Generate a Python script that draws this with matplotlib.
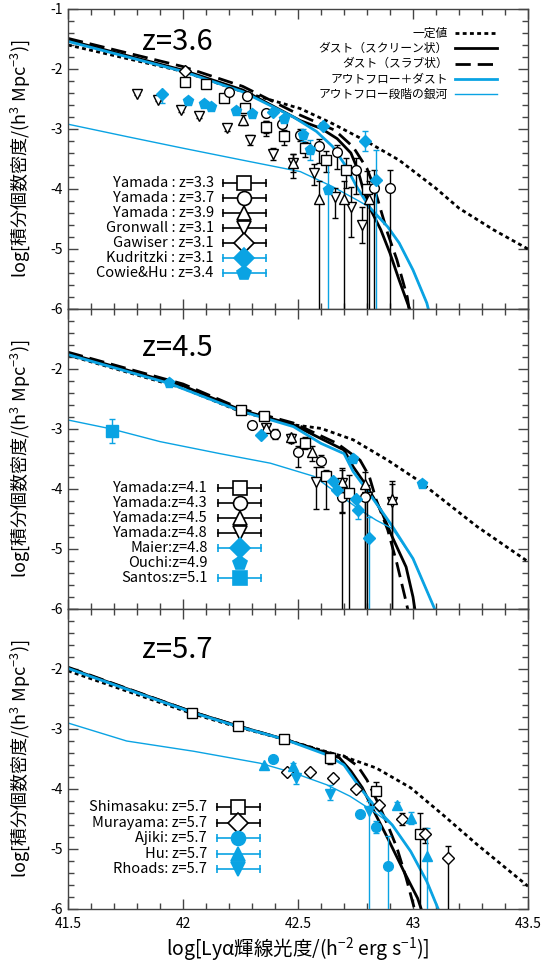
import numpy as np
import matplotlib
matplotlib.use("Agg")
import matplotlib.pyplot as plt
from matplotlib.ticker import MultipleLocator

plt.rcParams['font.family'] = ['Noto Sans CJK JP', 'DejaVu Sans']
plt.rcParams['mathtext.fontset'] = 'custom'
plt.rcParams['mathtext.rm'] = 'Noto Sans CJK JP'
plt.rcParams['mathtext.it'] = 'Noto Sans CJK JP'
plt.rcParams['mathtext.bf'] = 'Noto Sans CJK JP'
plt.rcParams['axes.unicode_minus'] = False

BLUE = '#0aa3e3'

# ---------------- model curves ----------------
# z = 3.6
p1_const_x = [41.5, 42.0, 42.26, 42.51, 42.65, 42.80, 42.94, 43.10, 43.20, 43.35, 43.5]
p1_const_y = [-1.60, -2.04, -2.38, -2.66, -2.91, -3.21, -3.52, -3.99, -4.32, -4.68, -5.0]
p1_screen_x = [41.5, 42.0, 42.26, 42.51, 42.60, 42.67, 42.73, 42.76, 42.78, 42.81, 42.86, 42.90, 42.94, 42.99]
p1_screen_y = [-1.52, -2.02, -2.35, -2.86, -2.99, -3.16, -3.40, -3.68, -3.96, -4.30, -4.68, -5.07, -5.52, -6.05]
p1_slab_x = [41.5, 42.0, 42.26, 42.51, 42.66, 42.74, 42.80, 42.83, 42.86, 42.89, 42.93, 42.975, 42.985]
p1_slab_y = [-1.49, -1.96, -2.29, -2.77, -3.02, -3.30, -3.66, -3.96, -4.35, -4.74, -5.18, -5.80, -6.05]
p1_outdust_x = [41.5, 42.0, 42.26, 42.48, 42.58, 42.65, 42.71, 42.755, 42.81, 42.89, 42.94, 43.0, 43.06, 43.07]
p1_outdust_y = [-1.54, -2.04, -2.38, -2.80, -3.04, -3.29, -3.63, -3.96, -4.30, -4.63, -4.90, -5.35, -5.90, -6.05]
p1_outflow_x = [41.5, 41.76, 42.0, 42.26, 42.51, 42.65, 42.755, 42.81, 42.89, 42.94, 43.0, 43.06, 43.07]
p1_outflow_y = [-2.92, -3.13, -3.32, -3.52, -3.71, -3.96, -4.18, -4.30, -4.63, -4.90, -5.35, -5.90, -6.05]

# z = 4.5
p2_const_x = [41.5, 42.0, 42.25, 42.48, 42.60, 42.74, 42.89, 43.02, 43.13, 43.28, 43.5]
p2_const_y = [-1.77, -2.32, -2.71, -2.93, -2.99, -3.18, -3.52, -3.85, -4.18, -4.63, -5.21]
p2_screen_x = [41.5, 42.0, 42.25, 42.48, 42.60, 42.70, 42.74, 42.80, 42.86, 42.91, 42.97, 43.0, 43.01]
p2_screen_y = [-1.74, -2.28, -2.68, -2.93, -3.16, -3.35, -3.63, -3.96, -4.35, -4.80, -5.30, -5.80, -6.05]
p2_slab_x = [41.5, 42.0, 42.25, 42.48, 42.67, 42.77, 42.81, 42.84, 42.89, 42.93, 42.965, 42.98]
p2_slab_y = [-1.72, -2.25, -2.66, -2.90, -3.24, -3.52, -3.79, -4.18, -4.68, -5.24, -5.80, -6.05]
p2_outdust_x = [41.5, 41.94, 42.25, 42.48, 42.60, 42.70, 42.74, 42.80, 42.91, 43.0, 43.10]
p2_outdust_y = [-1.76, -2.24, -2.70, -2.96, -3.24, -3.41, -3.71, -4.02, -4.62, -5.16, -6.05]
p2_outflow_x = [41.5, 41.69, 41.9, 42.16, 42.38, 42.57, 42.67, 42.77, 42.84, 42.91, 43.0, 43.10]
p2_outflow_y = [-2.85, -3.00, -3.21, -3.41, -3.57, -3.79, -4.07, -4.35, -4.52, -4.66, -5.16, -6.05]

# z = 5.7
p3_const_x = [41.5, 42.045, 42.24, 42.44, 42.625, 42.70, 42.84, 42.99, 43.13, 43.28, 43.5]
p3_const_y = [-2.03, -2.75, -2.97, -3.17, -3.38, -3.46, -3.65, -3.98, -4.43, -4.93, -5.62]
p3_screen_x = [41.5, 42.045, 42.24, 42.44, 42.625, 42.68, 42.73, 42.78, 42.83, 42.89, 42.96, 43.02, 43.04]
p3_screen_y = [-1.98, -2.72, -2.95, -3.17, -3.40, -3.48, -3.70, -3.98, -4.37, -4.82, -5.37, -5.82, -6.05]
p3_slab_x = [41.5, 42.045, 42.24, 42.44, 42.625, 42.70, 42.76, 42.80, 42.85, 42.89, 42.93, 42.97, 43.01]
p3_slab_y = [-1.97, -2.72, -2.95, -3.17, -3.39, -3.45, -3.62, -3.85, -4.25, -4.60, -4.98, -5.48, -6.05]
p3_outdust_x = [41.5, 42.045, 42.24, 42.44, 42.625, 42.70, 42.77, 42.84, 42.91, 42.99, 43.06, 43.115]
p3_outdust_y = [-1.99, -2.73, -2.96, -3.17, -3.43, -3.60, -3.98, -4.32, -4.60, -5.04, -5.54, -6.05]
p3_outflow_x = [41.5, 41.755, 42.045, 42.335, 42.48, 42.625, 42.726, 42.827, 42.91, 42.99, 43.06, 43.115]
p3_outflow_y = [-2.90, -3.20, -3.37, -3.57, -3.73, -3.93, -4.12, -4.37, -4.60, -5.04, -5.54, -6.05]

# ---------------- observations ----------------
# z = 3.6 panel
yam33_x = [42.01, 42.10, 42.18, 42.27, 42.36, 42.44, 42.53, 42.62, 42.71, 42.80]
yam33_y = [-2.21, -2.25, -2.48, -2.65, -2.96, -3.11, -3.31, -3.52, -3.69, -4.00]
yam33_lo = [0.03, 0.03, 0.05, 0.05, 0.15, 0.15, 0.15, 0.2, 0.3, 3.0]
yam33_hi = [0.03, 0.03, 0.05, 0.05, 0.1, 0.1, 0.1, 0.15, 0.2, 0.3]
yam37_x = [42.20, 42.28, 42.36, 42.43, 42.51, 42.59, 42.67, 42.75, 42.83, 42.90]
yam37_y = [-2.39, -2.45, -2.74, -2.91, -3.10, -3.28, -3.38, -3.68, -3.99, -3.99]
yam37_lo = [0.03, 0.03, 0.05, 0.08, 0.1, 0.28, 0.28, 0.4, 3.0, 3.0]
yam37_hi = [0.03, 0.03, 0.05, 0.08, 0.1, 0.11, 0.11, 0.2, 0.3, 0.3]
yam39_x = [42.26, 42.36, 42.48, 42.59, 42.70, 42.81]
yam39_y = [-2.85, -2.96, -3.56, -4.16, -4.16, -4.16]
yam39_lo = [0.08, 0.1, 0.15, 3.0, 3.0, 3.0]
yam39_hi = [0.08, 0.1, 0.15, 0.3, 0.3, 0.3]
gron_x = [41.80, 41.89, 41.99, 42.07, 42.19, 42.29, 42.39, 42.48, 42.57, 42.66, 42.73, 42.78]
gron_y = [-2.41, -2.51, -2.68, -2.78, -2.98, -3.18, -3.42, -3.56, -3.74, -4.14, -4.30, -4.60]
gron_lo = [0.03, 0.03, 0.04, 0.04, 0.05, 0.08, 0.1, 0.25, 0.2, 0.35, 0.5, 0.3]
gron_hi = [0.03, 0.03, 0.04, 0.04, 0.05, 0.08, 0.1, 0.15, 0.15, 0.15, 0.33, 0.3]
gaw_x = [42.01]
gaw_y = [-2.03]
gaw_lo = [0.02]
gaw_hi = [0.02]
kud_x = [41.91, 42.39, 42.61, 42.79, 42.84]
kud_y = [-2.41, -2.71, -2.95, -3.20, -3.85]
kud_lo = [0.16, 0.05, 0.05, 0.17, 3.0]
kud_hi = [0.03, 0.05, 0.05, 0.17, 0.5]
cowie_x = [42.02, 42.09, 42.12, 42.23, 42.30, 42.44, 42.52, 42.55, 42.63]
cowie_y = [-2.53, -2.58, -2.63, -2.70, -2.75, -2.84, -3.10, -3.35, -4.02]
cowie_lo = [0.03, 0.03, 0.03, 0.03, 0.03, 0.05, 0.1, 0.17, 3.0]
cowie_hi = [0.03, 0.03, 0.03, 0.03, 0.03, 0.05, 0.1, 0.17, 0.5]

# z = 4.5 panel
yam41_x = [42.25, 42.35, 42.53, 42.62, 42.72]
yam41_y = [-2.68, -2.79, -3.24, -3.79, -4.07]
yam41_lo = [0.03, 0.03, 0.1, 0.55, 3.0]
yam41_hi = [0.03, 0.03, 0.1, 0.1, 0.3]
yam43_x = [42.30, 42.40, 42.50, 42.60, 42.69, 42.79]
yam43_y = [-2.93, -3.08, -3.38, -3.54, -4.14, -4.14]
yam43_lo = [0.05, 0.08, 0.25, 0.1, 3.0, 3.0]
yam43_hi = [0.05, 0.08, 0.1, 0.1, 0.2, 0.2]
yam45_x = [42.36, 42.47, 42.56, 42.69, 42.79, 42.91]
yam45_y = [-2.99, -3.13, -3.39, -3.88, -3.92, -4.17]
yam45_lo = [0.05, 0.05, 0.15, 0.5, 3.0, 3.0]
yam45_hi = [0.05, 0.05, 0.1, 0.2, 0.2, 0.3]
yam48_x = [42.36, 42.47, 42.58, 42.69, 42.80, 42.91]
yam48_y = [-2.99, -3.16, -3.88, -3.90, -4.14, -4.21]
yam48_lo = [0.05, 0.08, 0.45, 0.5, 3.0, 3.0]
yam48_hi = [0.05, 0.08, 0.25, 0.25, 0.2, 0.3]
maier_x = [42.34, 42.65, 42.67, 42.75, 42.76, 42.81]
maier_y = [-3.10, -3.86, -4.02, -4.17, -4.35, -4.82]
maier_lo = [0.03, 0.05, 0.05, 0.05, 0.15, 3.0]
maier_hi = [0.03, 0.05, 0.05, 0.05, 0.05, 0.35]
ouchi_x = [41.94, 42.74, 43.04]
ouchi_y = [-2.24, -3.50, -3.92]
santos_x = [41.69]
santos_y = [-3.03]
santos_lo = [0.21]
santos_hi = [0.20]

# z = 5.7 panel
shima_x = [42.04, 42.24, 42.44, 42.64, 42.84, 43.03]
shima_y = [-2.73, -2.95, -3.17, -3.48, -4.03, -4.75]
shima_lo = [0.02, 0.02, 0.03, 0.1, 0.05, 3.0]
shima_hi = [0.02, 0.02, 0.03, 0.05, 0.15, 0.35]
mura_x = [42.45, 42.55, 42.65, 42.75, 42.85, 42.95, 43.05, 43.15]
mura_y = [-3.71, -3.71, -3.82, -4.00, -4.26, -4.50, -4.75, -5.15]
mura_lo = [0.02, 0.02, 0.02, 0.05, 0.05, 0.1, 0.15, 3.0]
mura_hi = [0.02, 0.02, 0.02, 0.05, 0.05, 0.1, 0.1, 0.2]
ajiki_x = [42.39, 42.77, 42.84, 42.89]
ajiki_y = [-3.50, -4.41, -4.63, -5.29]
ajiki_lo = [0.02, 0.03, 0.1, 3.0]
ajiki_hi = [0.02, 0.03, 0.1, 0.5]
hu_x = [42.35, 42.48, 42.93, 42.99, 43.06]
hu_y = [-3.60, -3.62, -4.26, -4.48, -5.12]
hu_lo = [0.02, 0.05, 0.05, 0.1, 3.0]
hu_hi = [0.02, 0.05, 0.05, 0.1, 0.47]
rhoads_x = [42.49, 42.64, 42.81]
rhoads_y = [-3.82, -4.09, -4.37]
rhoads_lo = [0.1, 0.1, 3.0]
rhoads_hi = [0.1, 0.15, 0.17]

model_labels = ['一定値', 'ダスト（スクリーン状）', 'ダスト（スラブ状）', 'アウトフロー＋ダスト', 'アウトフロー段階の銀河']
model_styles = [
    dict(color='black', lw=2.0, ls=(0, (1.4, 1.2))),
    dict(color='black', lw=2.0, ls='-'),
    dict(color='black', lw=2.0, ls=(0, (5.5, 2.5))),
    dict(color=BLUE, lw=2.0, ls='-'),
    dict(color=BLUE, lw=1.0, ls='-'),
]

OPEN = dict(mfc='white', mec='black', ecolor='black')
FILL = dict(mfc=BLUE, mec=BLUE, ecolor=BLUE)


def draw_models(ax, curves):
    for (x, y), st in zip(curves, model_styles):
        ax.plot(x, y, color=st['color'], lw=st['lw'], linestyle=st['ls'], zorder=2)


def draw_obs(ax, x, y, lo, hi, marker, sty, ms=7):
    if lo is None:
        ax.plot(x, y, linestyle='none', marker=marker, ms=ms, mfc=sty['mfc'],
                mec=sty['mec'], mew=1.0, zorder=4)
        return
    ax.errorbar(x, y, yerr=[lo, hi], fmt=marker, ms=ms, mfc=sty['mfc'], mec=sty['mec'],
                mew=1.0, ecolor=sty['ecolor'], elinewidth=1.0, capsize=2.5, capthick=1.0,
                zorder=4)


def draw_key(ax, rows, tx, x0, x1, y0, dy):
    for i, (label, marker, sty, bar) in enumerate(rows):
        yy = y0 - i * dy
        ax.text(tx, yy, label, transform=ax.transAxes, ha='right', va='center', fontsize=10.5)
        xm = 0.5 * (x0 + x1)
        if bar:
            ax.plot([x0, x1], [yy, yy], transform=ax.transAxes, color=sty['ecolor'], lw=1.2)
            ax.plot([x0, x1], [yy, yy], transform=ax.transAxes, linestyle='none', marker='|',
                    ms=6, mew=1.2, color=sty['ecolor'])
        ax.plot([xm], [yy], transform=ax.transAxes, marker=marker, ms=10,
                mfc=sty['mfc'], mec=sty['mec'], mew=1.2, linestyle='none', zorder=5)


fig = plt.figure(figsize=(5.52, 9.65), dpi=100)
W, H = 552.0, 965.0
axes = []
for i in range(3):
    top = 9 + 300 * i
    ax = fig.add_axes([68 / W, 1 - (top + 300) / H, 460 / W, 300 / H])
    axes.append(ax)

for i, ax in enumerate(axes):
    ax.set_xlim(41.5, 43.5)
    ax.set_ylim(-6, -1)
    ax.xaxis.set_major_locator(MultipleLocator(0.5))
    ax.xaxis.set_minor_locator(MultipleLocator(0.1))
    ax.yaxis.set_major_locator(MultipleLocator(1))
    ax.yaxis.set_minor_locator(MultipleLocator(0.2))
    ax.tick_params(which='both', direction='in', top=True, right=True, color='#444444',
                   labelsize=10)
    ax.tick_params(which='major', length=7, width=1)
    ax.tick_params(which='minor', length=4, width=1)
    ax.tick_params(axis='x', pad=6)
    for s in ax.spines.values():
        s.set_color('#444444')
        s.set_linewidth(1.0)
    ax.set_yticks([-6, -5, -4, -3, -2, -1])
    if i == 0:
        ax.set_yticklabels(['-6', '-5', '-4', '-3', '-2', '-1'])
    else:
        ax.set_yticklabels(['-6', '-5', '-4', '-3', '-2', ''])
    ax.set_xticks([41.5, 42, 42.5, 43, 43.5])
    if i == 2:
        ax.set_xticklabels(['41.5', '42', '42.5', '43', '43.5'])
    else:
        ax.set_xticklabels([])
    fig.text(20 / W, 1 - (9 + 300 * i + 150) / H, 'log[積分個数密度/(h$^3$ Mpc$^{-3}$)]',
             rotation=90, ha='center', va='center', fontsize=13)

ax1, ax2, ax3 = axes

# panel 1
draw_models(ax1, [(p1_const_x, p1_const_y), (p1_screen_x, p1_screen_y), (p1_slab_x, p1_slab_y),
                  (p1_outdust_x, p1_outdust_y), (p1_outflow_x, p1_outflow_y)])
draw_obs(ax1, gron_x, gron_y, gron_lo, gron_hi, 'v', OPEN)
draw_obs(ax1, yam39_x, yam39_y, yam39_lo, yam39_hi, '^', OPEN)
draw_obs(ax1, yam33_x, yam33_y, yam33_lo, yam33_hi, 's', OPEN)
draw_obs(ax1, yam37_x, yam37_y, yam37_lo, yam37_hi, 'o', OPEN)
draw_obs(ax1, gaw_x, gaw_y, gaw_lo, gaw_hi, 'D', OPEN, ms=6)
draw_obs(ax1, cowie_x, cowie_y, cowie_lo, cowie_hi, 'p', FILL, ms=8)
draw_obs(ax1, kud_x, kud_y, kud_lo, kud_hi, 'D', FILL, ms=6)
ax1.text(0.16, 0.89, 'z=3.6', transform=ax1.transAxes, fontsize=21, va='center')
draw_key(ax1, [('Yamada : z=3.3', 's', OPEN, True), ('Yamada : z=3.7', 'o', OPEN, True),
               ('Yamada : z=3.9', '^', OPEN, True), ('Gronwall : z=3.1', 'v', OPEN, True),
               ('Gawiser : z=3.1', 'D', OPEN, True), ('Kudritzki : z=3.1', 'D', FILL, True),
               ('Cowie&Hu : z=3.4', 'p', FILL, True)],
         0.317, 0.337, 0.430, 0.42, 0.05)
for i, (lab, st) in enumerate(zip(model_labels, model_styles)):
    yy = 0.92 - i * 0.051
    ax1.text(0.826, yy, lab, transform=ax1.transAxes, ha='right', va='center', fontsize=8.5)
    ax1.plot([0.841, 0.933], [yy, yy], transform=ax1.transAxes, color=st['color'], lw=st['lw'],
             linestyle=st['ls'])

# panel 2
draw_models(ax2, [(p2_const_x, p2_const_y), (p2_screen_x, p2_screen_y), (p2_slab_x, p2_slab_y),
                  (p2_outdust_x, p2_outdust_y), (p2_outflow_x, p2_outflow_y)])
draw_obs(ax2, yam48_x, yam48_y, yam48_lo, yam48_hi, 'v', OPEN)
draw_obs(ax2, yam45_x, yam45_y, yam45_lo, yam45_hi, '^', OPEN)
draw_obs(ax2, yam43_x, yam43_y, yam43_lo, yam43_hi, 'o', OPEN)
draw_obs(ax2, yam41_x, yam41_y, yam41_lo, yam41_hi, 's', OPEN)
draw_obs(ax2, maier_x, maier_y, maier_lo, maier_hi, 'D', FILL, ms=6)
draw_obs(ax2, ouchi_x, ouchi_y, None, None, 'p', FILL, ms=8)
draw_obs(ax2, santos_x, santos_y, santos_lo, santos_hi, 's', FILL, ms=8)
ax2.text(0.16, 0.87, 'z=4.5', transform=ax2.transAxes, fontsize=21, va='center')
draw_key(ax2, [('Yamada:z=4.1', 's', OPEN, True), ('Yamada:z=4.3', 'o', OPEN, True),
               ('Yamada:z=4.5', '^', OPEN, True), ('Yamada:z=4.8', 'v', OPEN, True),
               ('Maier:z=4.8', 'D', FILL, True), ('Ouchi:z=4.9', 'p', FILL, False),
               ('Santos:z=5.1', 's', FILL, True)],
         0.304, 0.326, 0.420, 0.403, 0.05)

# panel 3
draw_models(ax3, [(p3_const_x, p3_const_y), (p3_screen_x, p3_screen_y), (p3_slab_x, p3_slab_y),
                  (p3_outdust_x, p3_outdust_y), (p3_outflow_x, p3_outflow_y)])
draw_obs(ax3, shima_x, shima_y, shima_lo, shima_hi, 's', OPEN)
draw_obs(ax3, mura_x, mura_y, mura_lo, mura_hi, 'D', OPEN, ms=6)
draw_obs(ax3, ajiki_x, ajiki_y, ajiki_lo, ajiki_hi, 'o', FILL)
draw_obs(ax3, hu_x, hu_y, hu_lo, hu_hi, '^', FILL)
draw_obs(ax3, rhoads_x, rhoads_y, rhoads_lo, rhoads_hi, 'v', FILL)
ax3.text(0.16, 0.863, 'z=5.7', transform=ax3.transAxes, fontsize=21, va='center')
draw_key(ax3, [('Shimasaku: z=5.7', 's', OPEN, True), ('Murayama: z=5.7', 'D', OPEN, True),
               ('Ajiki: z=5.7', 'o', FILL, True), ('Hu: z=5.7', '^', FILL, True),
               ('Rhoads: z=5.7', 'v', FILL, True)],
         0.302, 0.324, 0.417, 0.34, 0.052)

fig.text(298 / W, 1 - 950 / H, 'log[Lyα輝線光度/(h$^{-2}$ erg s$^{-1}$)]', ha='center', va='center',
         fontsize=14)

fig.savefig('out.png', dpi=100)
